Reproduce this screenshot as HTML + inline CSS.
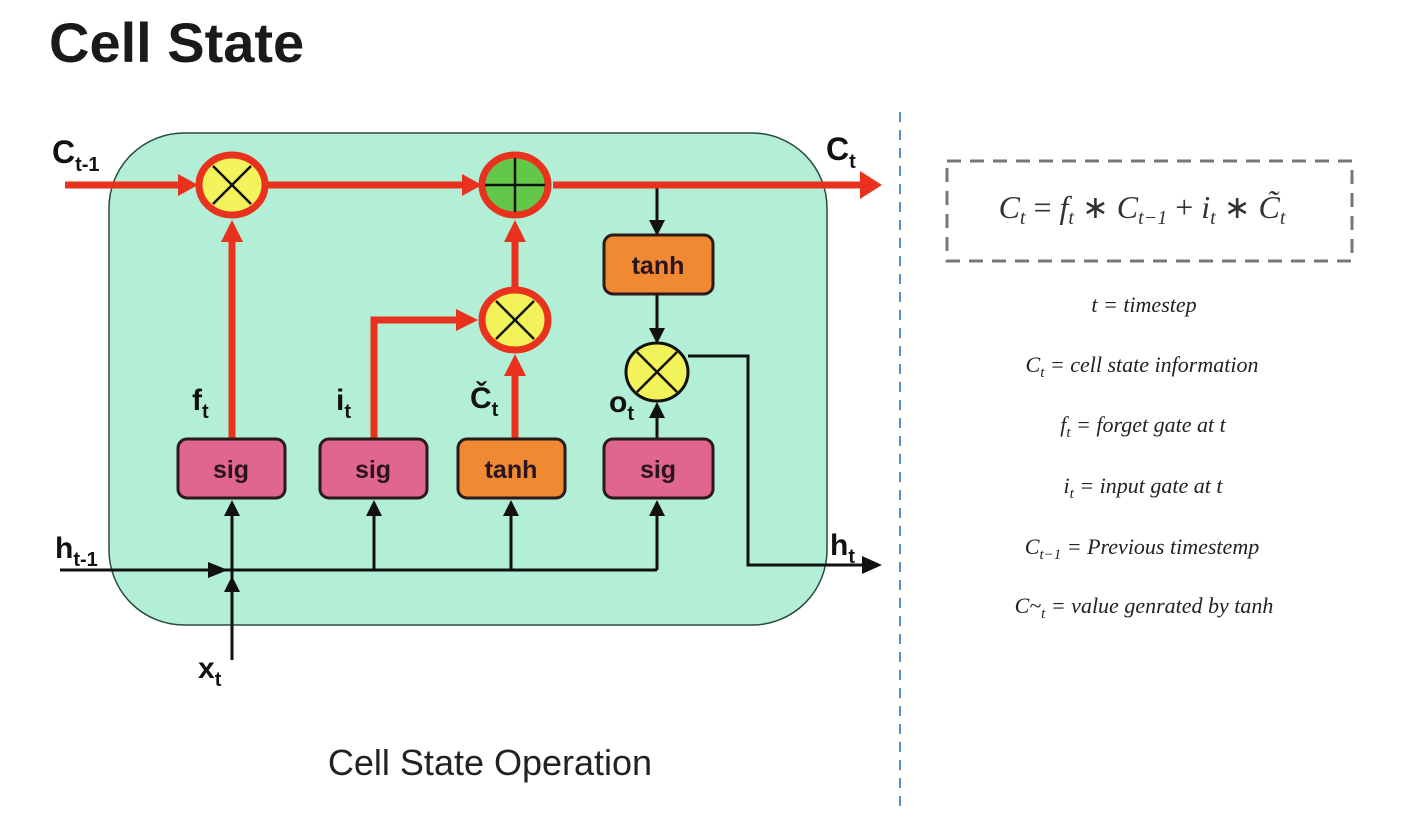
<!DOCTYPE html>
<html><head><meta charset="utf-8"><style>
html,body{margin:0;padding:0;background:#fff;width:1402px;height:824px;overflow:hidden}
</style></head><body>
<svg width="1402" height="824" viewBox="0 0 1402 824" xmlns="http://www.w3.org/2000/svg">
<defs>
<marker id="ar" markerWidth="10" markerHeight="10" refX="9" refY="5" orient="auto" markerUnits="userSpaceOnUse"><path d="M0,0 L10,5 L0,10 z" fill="#e8321e"/></marker>
</defs>
<text x="49" y="62" font-family="Liberation Sans, sans-serif" font-weight="bold" font-size="56" fill="#1a1a1a">Cell State</text>

<!-- cell box -->
<rect x="109" y="133" width="718" height="492" rx="75" fill="#b2efd6" stroke="#2a4a3c" stroke-width="1.5"/>

<!-- black lines -->
<g stroke="#111" stroke-width="3" fill="none">
<line x1="60" y1="570" x2="657" y2="570"/>
<line x1="232" y1="660" x2="232" y2="510"/>
<line x1="374" y1="570" x2="374" y2="510"/>
<line x1="511" y1="570" x2="511" y2="510"/>
<line x1="657" y1="570" x2="657" y2="510"/>
<line x1="657" y1="440" x2="657" y2="416"/>
<line x1="657" y1="185" x2="657" y2="222"/>
<line x1="657" y1="295" x2="657" y2="330"/>
<polyline points="688,356 748,356 748,565 866,565"/>
</g>
<g fill="#111">
<path d="M208,562 L228,570 L208,578z"/>
<path d="M224,592 L232,576 L240,592z"/>
<path d="M224,516 L232,500 L240,516z"/>
<path d="M366,516 L374,500 L382,516z"/>
<path d="M503,516 L511,500 L519,516z"/>
<path d="M649,516 L657,500 L665,516z"/>
<path d="M649,418 L657,402 L665,418z"/>
<path d="M649,220 L657,236 L665,220z"/>
<path d="M649,328 L657,344 L665,328z"/>
<path d="M862,556 L882,565 L862,574z"/>
</g>

<!-- red lines -->
<g stroke="#e8321e" stroke-width="7" fill="none">
<line x1="65" y1="185" x2="190" y2="185"/>
<line x1="268" y1="185" x2="475" y2="185"/>
<line x1="553" y1="185" x2="862" y2="185"/>
<line x1="232" y1="440" x2="232" y2="232"/>
<polyline points="374,440 374,320 468,320"/>
<line x1="515" y1="440" x2="515" y2="368"/>
<line x1="515" y1="290" x2="515" y2="230"/>
</g>
<g fill="#e8321e">
<path d="M178,174 L198,185 L178,196z"/>
<path d="M462,174 L482,185 L462,196z"/>
<path d="M860,171 L882,185 L860,199z"/>
<path d="M221,242 L232,220 L243,242z"/>
<path d="M504,242 L515,220 L526,242z"/>
<path d="M504,376 L515,354 L526,376z"/>
<path d="M456,309 L478,320 L456,331z"/>
</g>

<!-- circles -->
<g stroke="#e8321e" stroke-width="7">
<ellipse cx="232" cy="185" rx="33" ry="30" fill="#f2f25a"/>
<ellipse cx="515" cy="185" rx="33" ry="30" fill="#63c84a"/>
<ellipse cx="515" cy="320" rx="33" ry="30" fill="#f2f25a"/>
</g>
<g stroke="#111" stroke-width="2.5">
<line x1="213" y1="166" x2="251" y2="204"/><line x1="251" y1="166" x2="213" y2="204"/>
<line x1="515" y1="158" x2="515" y2="212"/><line x1="485" y1="185" x2="545" y2="185"/>
<line x1="496" y1="301" x2="534" y2="339"/><line x1="534" y1="301" x2="496" y2="339"/>
</g>
<ellipse cx="657" cy="372" rx="31" ry="29" fill="#f2f25a" stroke="#111" stroke-width="3"/>
<g stroke="#111" stroke-width="2.5">
<line x1="637" y1="352" x2="677" y2="392"/><line x1="677" y1="352" x2="637" y2="392"/>
</g>

<!-- boxes -->
<g stroke="#2a1a1a" stroke-width="3">
<rect x="178" y="439" width="107" height="59" rx="9" fill="#e0668f"/>
<rect x="320" y="439" width="107" height="59" rx="9" fill="#e0668f"/>
<rect x="458" y="439" width="107" height="59" rx="9" fill="#ef8a33"/>
<rect x="604" y="439" width="109" height="59" rx="9" fill="#e0668f"/>
<rect x="604" y="235" width="109" height="59" rx="9" fill="#ef8a33"/>
</g>
<g font-family="Liberation Sans, sans-serif" font-weight="bold" font-size="25" fill="#2a1420" text-anchor="middle">
<text x="231" y="478">sig</text>
<text x="373" y="478">sig</text>
<text x="511" y="478">tanh</text>
<text x="658" y="478">sig</text>
<text x="658" y="274">tanh</text>
</g>

<!-- labels -->
<g font-family="Liberation Sans, sans-serif" font-weight="bold" fill="#111">
<text x="52" y="163" font-size="32">C<tspan font-size="20" dy="8">t-1</tspan></text>
<text x="826" y="160" font-size="32">C<tspan font-size="20" dy="8">t</tspan></text>
<text x="192" y="410" font-size="30">f<tspan font-size="20" dy="8">t</tspan></text>
<text x="336" y="410" font-size="30">i<tspan font-size="20" dy="8">t</tspan></text>
<text x="470" y="408" font-size="30">Č<tspan font-size="20" dy="8">t</tspan></text>
<text x="609" y="412" font-size="30">o<tspan font-size="20" dy="8">t</tspan></text>
<text x="55" y="558" font-size="30">h<tspan font-size="20" dy="8">t-1</tspan></text>
<text x="830" y="555" font-size="30">h<tspan font-size="20" dy="8">t</tspan></text>
<text x="198" y="678" font-size="30">x<tspan font-size="20" dy="8">t</tspan></text>
</g>

<text x="490" y="775" font-family="Liberation Sans, sans-serif" font-size="36" fill="#222" text-anchor="middle">Cell State Operation</text>

<!-- divider -->
<line x1="900" y1="112" x2="900" y2="812" stroke="#5a8ec8" stroke-width="2" stroke-dasharray="10,8"/>

<!-- formula box -->
<rect x="947" y="161" width="405" height="100" fill="none" stroke="#777" stroke-width="3" stroke-dasharray="14,9"/>
<text x="1142" y="218" font-family="Liberation Serif, serif" font-size="32" fill="#333" text-anchor="middle" font-style="italic">C<tspan font-size="20" dy="6">t</tspan><tspan dy="-6" font-style="normal"> = </tspan>f<tspan font-size="20" dy="6">t</tspan><tspan dy="-6" font-style="normal"> ∗ </tspan>C<tspan font-size="20" dy="6">t−1</tspan><tspan dy="-6" font-style="normal"> + </tspan>i<tspan font-size="20" dy="6">t</tspan><tspan dy="-6" font-style="normal"> ∗ </tspan>C̃<tspan font-size="20" dy="6">t</tspan></text>

<g font-family="Liberation Serif, serif" font-style="italic" font-size="22" fill="#222" text-anchor="middle">
<text x="1144" y="312">t = timestep</text>
<text x="1142" y="372">C<tspan font-size="15" dy="5">t</tspan><tspan dy="-5"> = cell state information</tspan></text>
<text x="1143" y="432">f<tspan font-size="15" dy="5">t</tspan><tspan dy="-5"> = forget gate at t</tspan></text>
<text x="1143" y="493">i<tspan font-size="15" dy="5">t</tspan><tspan dy="-5"> = input gate at t</tspan></text>
<text x="1142" y="554">C<tspan font-size="15" dy="5">t−1</tspan><tspan dy="-5"> = Previous timestemp</tspan></text>
<text x="1144" y="613">C~<tspan font-size="15" dy="5">t</tspan><tspan dy="-5"> = value genrated by tanh</tspan></text>
</g>
</svg>
</body></html>
